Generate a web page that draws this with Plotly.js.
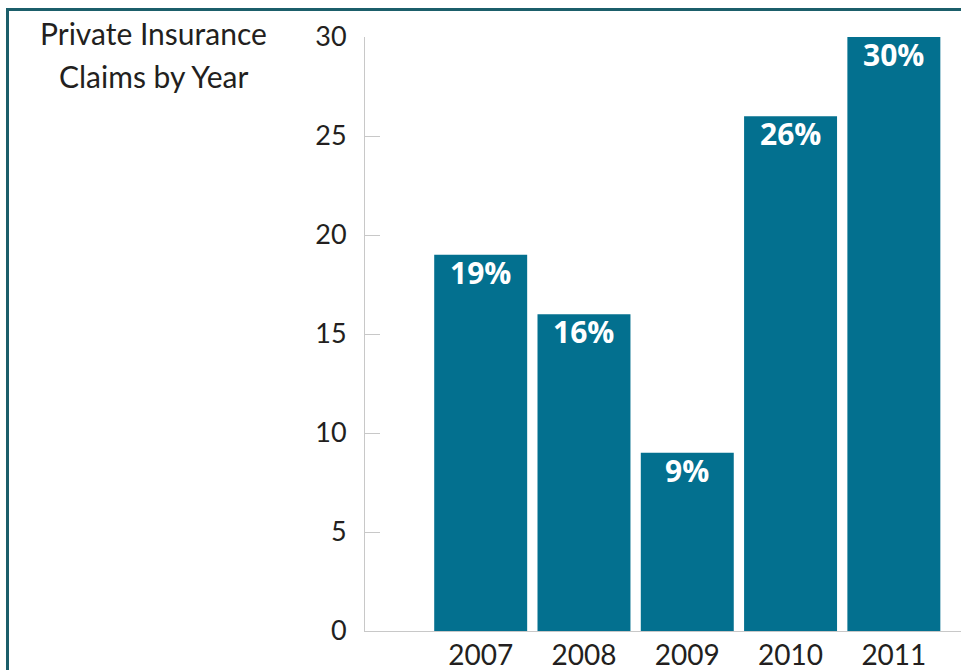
<!DOCTYPE html>
<html>
<head>
<meta charset="utf-8">
<script src="https://cdn.plot.ly/plotly-3.0.1.min.js"></script>
<style>
  html, body { margin: 0; padding: 0; width: 961px; height: 670px; overflow: hidden; background: #ffffff; }
  #frame { position: absolute; left: 6px; top: 8px; width: 1100px; height: 800px; border: 3px solid #1b5e6a; box-sizing: border-box; }
  #chart { position: absolute; left: 0; top: 0; width: 961px; height: 670px; }
</style>
</head>
<body>
<div id="frame"></div>
<div id="chart"></div>
<script>
const years = [2007, 2008, 2009, 2010, 2011];
const claims = [19, 16, 9, 26, 30];
const barLabels = ['19%', '16%', '9%', '26%', '30%'];
const yTicks = [0, 5, 10, 15, 20, 25, 30];
const titleLines = ['Private Insurance', 'Claims by Year'];

const trace = {
  type: 'bar',
  x: years,
  y: claims,
  marker: { color: '#03708f', line: { width: 0 } },
  hoverinfo: 'skip'
};

const W = 961, L = 365;
const toPaperX = px => (px - L) / (W - L);

const labelAnnotations = years.map((yr, i) => ({
  x: yr, y: claims[i], xref: 'x', yref: 'y',
  text: barLabels[i], showarrow: false,
  xanchor: 'center', yanchor: 'top', yshift: 5,
  font: { family: 'Open Sans', size: 30, color: '#ffffff', weight: 700 }
}));

const layout = {
  width: 961,
  height: 670,
  margin: { l: 365, r: 0, t: 37, b: 39, pad: 0 },
  paper_bgcolor: 'rgba(0,0,0,0)',
  plot_bgcolor: 'rgba(0,0,0,0)',
  showlegend: false,
  bargap: 0.1,
  font: { family: 'Lato', color: '#231f20' },
  xaxis: {
    range: [2005.88, 2011.65],
    tickvals: years,
    ticktext: years.map(String),
    ticks: '',
    showline: true,
    linecolor: '#c8c8c8',
    linewidth: 1,
    showgrid: false,
    zeroline: false,
    ticklabelstandoff: -1,
    tickfont: { family: 'Lato', size: 28, color: '#231f20' },
    fixedrange: true
  },
  yaxis: {
    range: [0, 30],
    tickvals: yTicks,
    ticks: 'inside',
    ticklen: 15,
    tickcolor: '#c8c8c8',
    tickwidth: 1,
    showline: true,
    linecolor: '#c8c8c8',
    linewidth: 1,
    showgrid: false,
    zeroline: false,
    ticklabelstandoff: 12,
    tickfont: { family: 'Lato', size: 27, color: '#231f20' },
    fixedrange: true
  },
  annotations: [
    {
      text: titleLines[0], xref: 'paper', yref: 'paper',
      x: toPaperX(153), y: (670 - 13 - 39) / (670 - 37 - 39),
      xanchor: 'center', yanchor: 'top', showarrow: false,
      font: { family: 'Lato', size: 30, color: '#231f20' }
    },
    {
      text: titleLines[1], xref: 'paper', yref: 'paper',
      x: toPaperX(153), y: (670 - 56 - 39) / (670 - 37 - 39),
      xanchor: 'center', yanchor: 'top', showarrow: false,
      font: { family: 'Lato', size: 30, color: '#231f20' }
    }
  ].concat(labelAnnotations)
};

Plotly.newPlot('chart', [trace], layout, { displayModeBar: false, staticPlot: true });
</script>
</body>
</html>
